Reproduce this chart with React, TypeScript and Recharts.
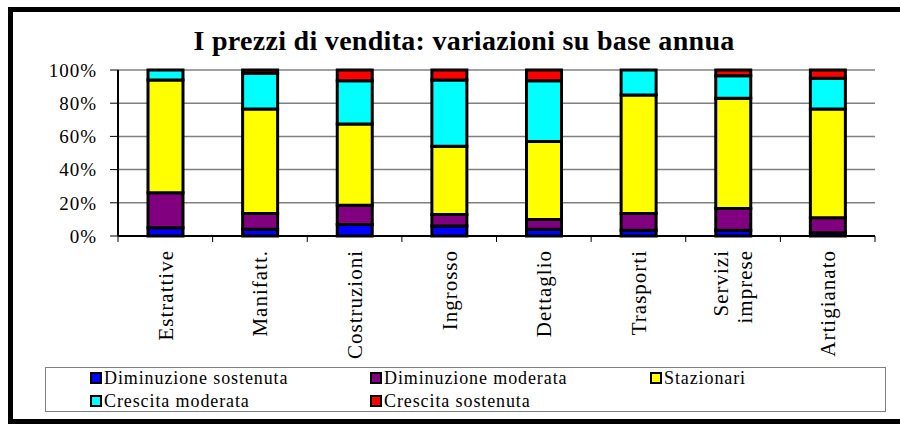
import { BarChart, Bar, XAxis, YAxis, CartesianGrid } from "recharts";

const categories = [
  "Estrattive",
  "Manifatt.",
  "Costruzioni",
  "Ingrosso",
  "Dettaglio",
  "Trasporti",
  "Servizi\nimprese",
  "Artigianato",
];

const diminuzioneSostenuta = [5, 4, 7, 6, 4, 3.5, 3.5, 2];
const diminuzioneModerata = [21, 9.5, 11.5, 7, 6, 10, 13, 9];
const stazionari = [68, 63, 49, 41, 47, 71.5, 66.5, 65.5];
const crescitaModerata = [6, 21.5, 26, 40, 36.5, 15, 13.5, 18.5];
const crescitaSostenuta = [0, 2, 6.5, 6, 6.5, 0, 3.5, 5];

const yTicks = [0, 20, 40, 60, 80, 100];

const SERIES = [
  { key: "dimSost", name: "Diminuzione sostenuta", color: "#0000ff", values: diminuzioneSostenuta },
  { key: "dimMod", name: "Diminuzione moderata", color: "#800080", values: diminuzioneModerata },
  { key: "staz", name: "Stazionari", color: "#ffff00", values: stazionari },
  { key: "cresMod", name: "Crescita moderata", color: "#00ffff", values: crescitaModerata },
  { key: "cresSost", name: "Crescita sostenuta", color: "#ff0000", values: crescitaSostenuta },
];

const data = categories.map((name, i) => {
  const row: Record<string, string | number> = { name };
  SERIES.forEach((s) => (row[s.key] = s.values[i]));
  return row;
});

const FONT = "Liberation Serif, DejaVu Serif, serif";

function CategoryTick(props: any) {
  const { x, y, payload, index } = props;
  const half = payload?.offset ?? 0;
  const lines = String(payload.value).split("\n");
  const ly = y + 8;
  const isLast = index === categories.length - 1;
  return (
    <g>
      <line x1={x - half} x2={x - half} y1={y - 6} y2={y} stroke="#000" strokeWidth={1} />
      {isLast && (
        <line x1={x + half} x2={x + half} y1={y - 6} y2={y} stroke="#000" strokeWidth={1} />
      )}
      <text
        x={x}
        y={ly}
        transform={`rotate(-90 ${x} ${ly})`}
        textAnchor="end"
        style={{ fontFamily: FONT }}
        fontSize={21}
        letterSpacing={1}
        fill="#000"
      >
        {lines.map((ln, i) => (
          <tspan
            key={i}
            x={x}
            dy={i === 0 ? `${0.35 - (lines.length - 1) * 0.575}em` : "1.15em"}
          >
            {ln}
          </tspan>
        ))}
      </text>
    </g>
  );
}

export default function App() {
  return (
    <div
      style={{
        position: "absolute",
        left: 0,
        top: 0,
        width: 900,
        height: 426,
        overflow: "hidden",
        background: "#fff",
        fontFamily: FONT,
      }}
    >
      <div style={{ position: "absolute", left: 0, top: 0 }}>
        <BarChart
          width={900}
          height={426}
          data={data}
          margin={{ top: 70, right: 25, left: 58, bottom: 70 }}
          barSize={35}
        >
          <CartesianGrid vertical={false} stroke="#808080" strokeWidth={1.5} />
          <XAxis
            dataKey="name"
            interval={0}
            height={120}
            tickLine={false}
            tickSize={6}
            tickMargin={0}
            axisLine={{ stroke: "#000", strokeWidth: 2 }}
            tick={<CategoryTick />}
          />
          <YAxis
            domain={[0, 100]}
            ticks={yTicks}
            width={60}
            tickSize={8}
            tickMargin={13}
            tickFormatter={(v: number) => `${v}%`}
            axisLine={{ stroke: "#000", strokeWidth: 2 }}
            tickLine={{ stroke: "#000" }}
            tick={{ fill: "#000", style: { fontFamily: FONT }, fontSize: 19, letterSpacing: 1 }}
          />
          <YAxis
            yAxisId="r"
            orientation="right"
            domain={[0, 100]}
            width={0}
            tick={false}
            tickLine={false}
            axisLine={{ stroke: "#808080", strokeWidth: 2 }}
          />
          {SERIES.map((s) => (
            <Bar
              key={s.key}
              dataKey={s.key}
              name={s.name}
              stackId="a"
              fill={s.color}
              stroke="#000"
              strokeWidth={3}
              isAnimationActive={false}
            />
          ))}
        </BarChart>
      </div>

      <svg
        width={900}
        height={426}
        style={{ position: "absolute", left: 0, top: 0, pointerEvents: "none" }}
      >
        <rect x={10.5} y={9.5} width={900} height={412} fill="none" stroke="#000" strokeWidth={5} />
        <text
          x={464}
          y={50}
          textAnchor="middle"
          style={{ fontFamily: FONT }}
          fontWeight="bold"
          fontSize={28}
          letterSpacing={0.3}
          fill="#000"
        >
          I prezzi di vendita: variazioni su base annua
        </text>
      </svg>

      <div
        style={{
          position: "absolute",
          left: 45,
          top: 367,
          width: 839,
          height: 43,
          border: "1px solid #808080",
          fontSize: 18,
          letterSpacing: 0.9,
          color: "#000",
        }}
      >
        {SERIES.map((s, i) => (
          <div
            key={s.key}
            style={{
              position: "absolute",
              left: 44 + (i % 3) * 280,
              top: 3 + Math.floor(i / 3) * 23,
              height: 14,
              display: "flex",
              alignItems: "center",
              whiteSpace: "nowrap",
            }}
          >
            <span
              style={{
                display: "inline-block",
                width: 8,
                height: 8,
                background: s.color,
                border: "2px solid #000",
                marginRight: 2,
              }}
            />
            <span style={{ lineHeight: "14px" }}>{s.name}</span>
          </div>
        ))}
      </div>
    </div>
  );
}
